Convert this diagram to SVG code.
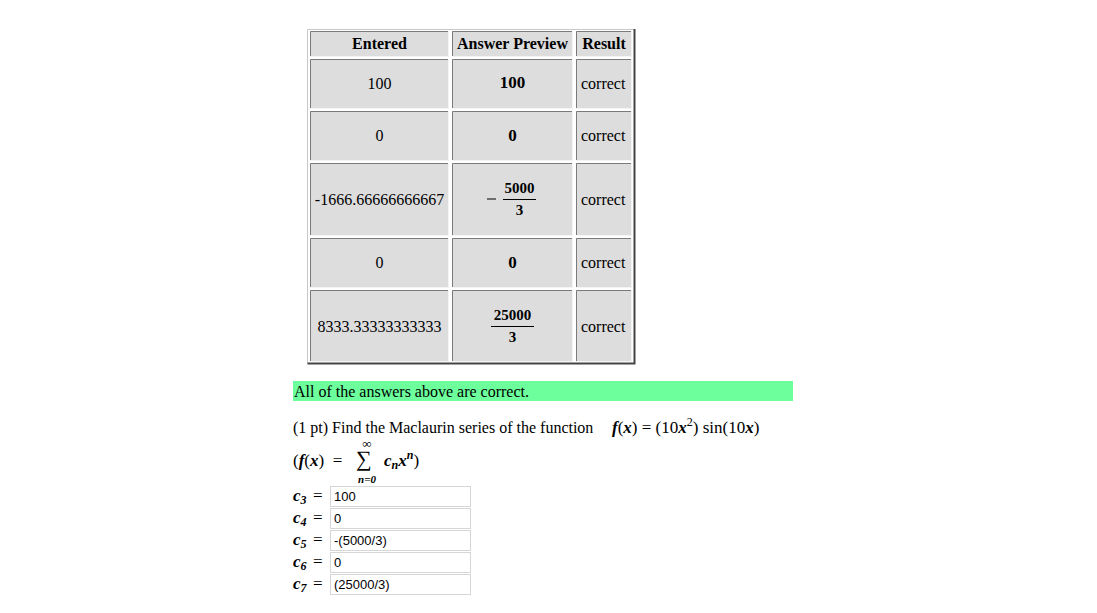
<svg xmlns="http://www.w3.org/2000/svg" width="1097" height="613" viewBox="0 0 1097 613">
<style>
.s{font-family:"Liberation Serif","Times New Roman",serif;font-size:16px;fill:#000}
.b{font-weight:bold}
.m{font-family:"Liberation Serif","Times New Roman",serif;font-size:17px;fill:#000}
.mi{font-style:italic;font-weight:bold}
.cell{fill:#dddddd}
.inp{fill:#fff;stroke:#d6d6d6;stroke-width:1}
.it{font-family:"Liberation Sans",Arial,sans-serif;font-size:13px;fill:#000}
.c{text-anchor:middle}
</style>
<rect width="1097" height="613" fill="#fff"/>
<g id="table">
<rect x="307" y="29" width="328" height="335" fill="#fff"/>
<path d="M307.5 364V29.5H635" fill="none" stroke="#c8c8c8"/>
<path d="M307.5 363.5H634.5V29" fill="none" stroke="#444" stroke-width="2"/>
<g id="cells">
<rect class="cell" x="310" y="31" width="139" height="26"/>
<rect class="cell" x="452" y="31" width="121" height="26"/>
<rect class="cell" x="576" y="31" width="56" height="26"/>
<rect class="cell" x="310" y="59" width="139" height="50"/>
<rect class="cell" x="452" y="59" width="121" height="50"/>
<rect class="cell" x="576" y="59" width="56" height="50"/>
<rect class="cell" x="310" y="111" width="139" height="50"/>
<rect class="cell" x="452" y="111" width="121" height="50"/>
<rect class="cell" x="576" y="111" width="56" height="50"/>
<rect class="cell" x="310" y="163" width="139" height="73"/>
<rect class="cell" x="452" y="163" width="121" height="73"/>
<rect class="cell" x="576" y="163" width="56" height="73"/>
<rect class="cell" x="310" y="238" width="139" height="50"/>
<rect class="cell" x="452" y="238" width="121" height="50"/>
<rect class="cell" x="576" y="238" width="56" height="50"/>
<rect class="cell" x="310" y="290" width="139" height="72"/>
<rect class="cell" x="452" y="290" width="121" height="72"/>
<rect class="cell" x="576" y="290" width="56" height="72"/>
</g>
<g fill="none" stroke="#7a7a7a" stroke-width="1">
<path d="M310.5 57V31.5H449 M452.5 57V31.5H573 M576.5 57V31.5H632"/>
<path d="M310.5 109V59.5H449 M452.5 109V59.5H573 M576.5 109V59.5H632"/>
<path d="M310.5 161V111.5H449 M452.5 161V111.5H573 M576.5 161V111.5H632"/>
<path d="M310.5 236V163.5H449 M452.5 236V163.5H573 M576.5 236V163.5H632"/>
<path d="M310.5 288V238.5H449 M452.5 288V238.5H573 M576.5 288V238.5H632"/>
<path d="M310.5 362V290.5H449 M452.5 362V290.5H573 M576.5 362V290.5H632"/>
</g>
<g fill="none" stroke="#f4f4f4" stroke-width="1">
<path d="M310 56.5H448.5V31 M452 56.5H572.5V31 M576 56.5H631.5V31"/>
<path d="M310 108.5H448.5V59 M452 108.5H572.5V59 M576 108.5H631.5V59"/>
<path d="M310 160.5H448.5V111 M452 160.5H572.5V111 M576 160.5H631.5V111"/>
<path d="M310 235.5H448.5V163 M452 235.5H572.5V163 M576 235.5H631.5V163"/>
<path d="M310 287.5H448.5V238 M452 287.5H572.5V238 M576 287.5H631.5V238"/>
<path d="M310 361.5H448.5V290 M452 361.5H572.5V290 M576 361.5H631.5V290"/>
</g>
<g id="header">
<text class="s b c" x="379.5" y="49">Entered</text>
<text class="s b c" x="512.5" y="49">Answer Preview</text>
<text class="s b c" x="604" y="49">Result</text>
</g>
<g id="row1">
<text class="s c" x="379.5" y="89">100</text>
<text class="m b c" x="512.5" y="88">100</text>
<text class="s" x="581" y="89">correct</text>
</g>
<g id="row2">
<text class="s c" x="379.5" y="141">0</text>
<text class="m b c" x="512.5" y="141">0</text>
<text class="s" x="581" y="141">correct</text>
</g>
<g id="row3">
<text class="s c" x="379.5" y="205">-1666.66666666667</text>
<line x1="487" y1="199" x2="496" y2="199" stroke="#000" stroke-width="1"/>
<text class="m b c" x="519.5" y="193" style="font-size:15px">5000</text>
<line x1="503" y1="199.5" x2="536" y2="199.5" stroke="#000" stroke-width="1.2"/>
<text class="m b c" x="519.5" y="215" style="font-size:15px">3</text>
<text class="s" x="581" y="205">correct</text>
</g>
<g id="row4">
<text class="s c" x="379.5" y="268">0</text>
<text class="m b c" x="512.5" y="268">0</text>
<text class="s" x="581" y="268">correct</text>
</g>
<g id="row5">
<text class="s c" x="379.5" y="332">8333.33333333333</text>
<text class="m b c" x="512.5" y="320" style="font-size:15px">25000</text>
<line x1="491" y1="326.5" x2="534" y2="326.5" stroke="#000" stroke-width="1.2"/>
<text class="m b c" x="512.5" y="342" style="font-size:15px">3</text>
<text class="s" x="581" y="332">correct</text>
</g>
</g>
<g id="banner">
<rect x="293" y="381" width="500" height="20" fill="#6cff9c"/>
<text class="s" x="294" y="397">All of the answers above are correct.</text>
</g>
<g id="answers">
<text class="m" x="293" y="501"><tspan class="mi">c</tspan><tspan class="mi" dy="3" style="font-size:12px">3</tspan></text>
<text class="m" x="313" y="501">=</text>
<rect class="inp" x="330.5" y="486.5" width="140" height="20"/>
<text class="it" x="334" y="501">100</text>
<text class="m" x="293" y="523"><tspan class="mi">c</tspan><tspan class="mi" dy="3" style="font-size:12px">4</tspan></text>
<text class="m" x="313" y="523">=</text>
<rect class="inp" x="330.5" y="508.5" width="140" height="20"/>
<text class="it" x="334" y="523">0</text>
<text class="m" x="293" y="545"><tspan class="mi">c</tspan><tspan class="mi" dy="3" style="font-size:12px">5</tspan></text>
<text class="m" x="313" y="545">=</text>
<rect class="inp" x="330.5" y="530.5" width="140" height="20"/>
<text class="it" x="334" y="545">-(5000/3)</text>
<text class="m" x="293" y="567"><tspan class="mi">c</tspan><tspan class="mi" dy="3" style="font-size:12px">6</tspan></text>
<text class="m" x="313" y="567">=</text>
<rect class="inp" x="330.5" y="552.5" width="140" height="20"/>
<text class="it" x="334" y="567">0</text>
<text class="m" x="293" y="589"><tspan class="mi">c</tspan><tspan class="mi" dy="3" style="font-size:12px">7</tspan></text>
<text class="m" x="313" y="589">=</text>
<rect class="inp" x="330.5" y="574.5" width="140" height="20"/>
<text class="it" x="334" y="589">(25000/3)</text>
</g>
<g id="question">
<text class="s" x="293" y="433">(1 pt) Find the Maclaurin series of the function</text>
<text class="m" x="612" y="433"><tspan class="mi">f</tspan>(<tspan class="mi">x</tspan>) = (10<tspan class="mi">x</tspan><tspan dy="-7" style="font-size:12px">2</tspan><tspan dy="7">) sin(10</tspan><tspan class="mi">x</tspan>)</text>
<text class="m" x="293" y="466" style="white-space:pre">(<tspan class="mi">f</tspan>(<tspan class="mi">x</tspan>)  =</text>
<text class="m" x="356" y="466" style="font-size:22px">∑</text>
<text class="m c" x="367" y="448" style="font-size:13px">∞</text>
<text class="m c mi" x="367" y="483" style="font-size:11px">n=0</text>
<text class="m" x="384" y="466"><tspan class="mi">c</tspan><tspan class="mi" dy="3" style="font-size:12px">n</tspan><tspan class="mi" dy="-3">x</tspan><tspan class="mi" dy="-7" style="font-size:12px">n</tspan><tspan dy="7">)</tspan></text>
</g>
</svg>
